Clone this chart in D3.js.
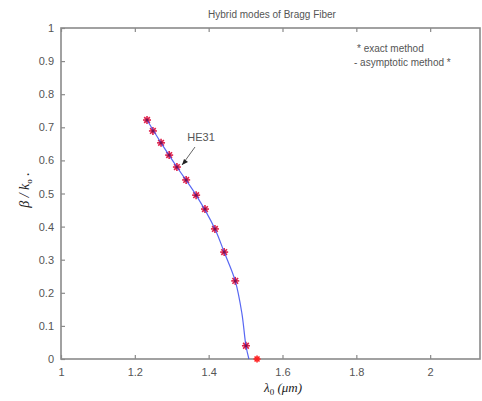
<!DOCTYPE html>
<html><head><meta charset="utf-8">
<script src="https://cdn.jsdelivr.net/npm/d3@7"></script>
<style>body{margin:0;background:#fff}svg{display:block}</style>
</head><body>
<svg id="c" width="482" height="401"></svg>
<script>
const exactX = [1.233,1.249,1.271,1.293,1.314,1.339,1.366,1.390,1.417,1.442,1.472,1.501];
const exactY = [0.722,0.689,0.653,0.616,0.580,0.541,0.495,0.453,0.393,0.323,0.236,0.040];
const extraPoint = [1.531, 0.0];
const asymX = [1.233,1.271,1.314,1.366,1.417,1.442,1.472,1.490,1.501,1.509];
const asymY = [0.722,0.653,0.580,0.495,0.393,0.323,0.236,0.138,0.040,0.000];
const xTicks = [1,1.2,1.4,1.6,1.8,2];
const xTickLabels = ["1","1.2","1.4","1.6","1.8","2"];
const yTicks = [0,0.1,0.2,0.3,0.4,0.5,0.6,0.7,0.8,0.9,1];
const yTickLabels = ["0","0.1","0.2","0.3","0.4","0.5","0.6","0.7","0.8","0.9","1"];

const svg = d3.select("#c");
const L=61,R=480,T=28,B=359;
const x = d3.scaleLinear().domain([1,2.135]).range([L,R]);
const y = d3.scaleLinear().domain([0,1]).range([B,T]);
const axisCol="#8a8a8a", txtCol="#555";

// frame
svg.append("rect").attr("x",L).attr("y",T).attr("width",R-L).attr("height",B-T)
  .attr("fill","none").attr("stroke",axisCol).attr("stroke-width",1.6);

const gx = svg.append("g").attr("transform",`translate(0,${B})`)
  .call(d3.axisBottom(x).tickValues(xTicks).tickFormat((d,i)=>xTickLabels[i]).tickSizeInner(-4).tickSizeOuter(0).tickPadding(9));
const gxt = svg.append("g").attr("transform",`translate(0,${T})`)
  .call(d3.axisTop(x).tickValues(xTicks).tickFormat("").tickSizeInner(-4).tickSizeOuter(0));
const gy = svg.append("g").attr("transform",`translate(${L},0)`)
  .call(d3.axisLeft(y).tickValues(yTicks).tickFormat((d,i)=>yTickLabels[i]).tickSizeInner(-4).tickSizeOuter(0).tickPadding(7));
[gx,gxt,gy].forEach(g=>{
  g.select(".domain").remove();
  g.selectAll("line").attr("stroke",axisCol).attr("stroke-width",1.2);
  g.selectAll("text").attr("fill",txtCol).style("font-family","Liberation Sans, Arial, sans-serif").style("font-size","11px");
});

// markers (MATLAB '*')
function star(g,cx,cy,s,col){
  const a=[0,Math.PI/2,Math.PI/4,3*Math.PI/4];
  a.forEach(t=>{
    g.append("line").attr("x1",cx-s*Math.cos(t)).attr("y1",cy-s*Math.sin(t))
      .attr("x2",cx+s*Math.cos(t)).attr("y2",cy+s*Math.sin(t))
      .attr("stroke",col).attr("stroke-width",1.6);
  });
}
const mk = svg.append("g");
exactX.forEach((d,i)=>star(mk,x(d),y(exactY[i]),4,"#e0204a"));
star(mk,x(extraPoint[0]),y(extraPoint[1]),3.5,"#ff2020");

// line
const line = d3.line().x(d=>x(d[0])).y(d=>y(d[1])).curve(d3.curveCatmullRom);
svg.append("path").datum(asymX.map((d,i)=>[d,asymY[i]])).attr("d",line)
  .attr("fill","none").attr("stroke","#3b4cf0").attr("stroke-width",1.2).attr("opacity",0.85);
// dark centres
exactX.forEach((d,i)=>svg.append("circle").attr("cx",x(d)).attr("cy",y(exactY[i])).attr("r",1.5).attr("fill","#7a1050"));

// annotation
svg.append("line").attr("x1",195).attr("y1",147).attr("x2",182).attr("y2",165).attr("stroke","#666").attr("stroke-width",1);
svg.append("path").attr("d","M182,165 L184,159 L188,162 Z").attr("fill","#222");
svg.append("text").attr("x",201).attr("y",141).attr("text-anchor","middle").attr("fill","#555")
  .style("font-family","Liberation Sans, Arial, sans-serif").style("font-size","11px").text("HE31");

// title
svg.append("text").attr("x",272).attr("y",18).attr("text-anchor","middle").attr("fill","#555")
  .style("font-family","Liberation Sans, Arial, sans-serif").style("font-size","10px").text("Hybrid modes of Bragg Fiber");

// legend
const lg = svg.append("g").attr("fill","#555").style("font-family","Liberation Sans, Arial, sans-serif").style("font-size","10px");
lg.append("text").attr("x",357).attr("y",52).text("* exact method");
lg.append("text").attr("x",354).attr("y",66).text("- asymptotic method *");

// axis labels
svg.append("text").attr("x",283).attr("y",392).attr("text-anchor","middle").attr("fill","#222")
  .style("font-family","Liberation Serif, Times New Roman, serif").style("font-size","13px").style("font-style","italic")
  .html('λ<tspan dy="3" font-size="9" font-style="normal">0</tspan><tspan dy="-3"> (μm)</tspan>');
svg.append("text").attr("transform","translate(29,190) rotate(-90)").attr("text-anchor","middle").attr("fill","#222")
  .style("font-family","Liberation Serif, Times New Roman, serif").style("font-size","14px").style("font-style","italic")
  .html('β / k<tspan dy="3" font-size="9" font-style="normal">o</tspan><tspan dy="-3"> .</tspan>');
</script>
</body></html>
